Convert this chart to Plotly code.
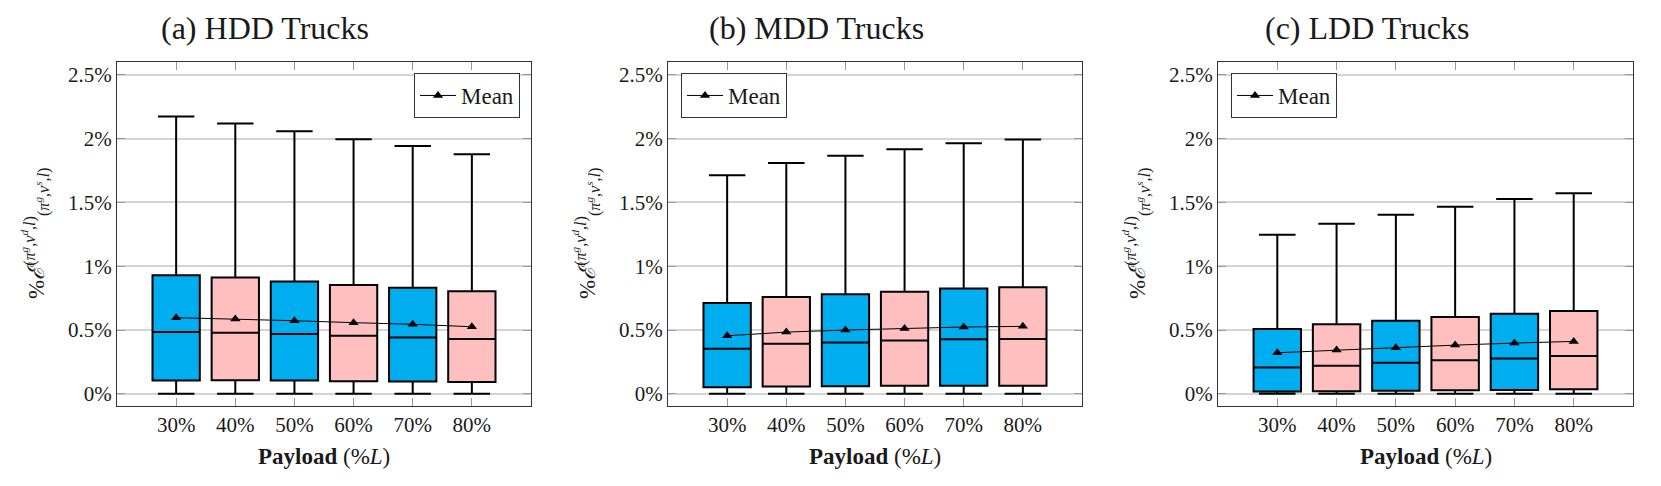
import plotly.graph_objects as go

# Payload categories and y ticks
payload = ["30%", "40%", "50%", "60%", "70%", "80%"]
y_tickvals = [0, 0.5, 1, 1.5, 2, 2.5]
y_ticktext = ["0%", "0.5%", "1%", "1.5%", "2%", "2.5%"]

titles = ["(a) HDD Trucks", "(b) MDD Trucks", "(c) LDD Trucks"]

# HDD trucks (values in %)
hdd_lower = [0, 0, 0, 0, 0, 0]
hdd_q1 = [0.105, 0.107, 0.105, 0.099, 0.097, 0.094]
hdd_median = [0.484, 0.479, 0.469, 0.455, 0.442, 0.429]
hdd_q3 = [0.929, 0.911, 0.880, 0.853, 0.832, 0.804]
hdd_upper = [2.173, 2.118, 2.058, 1.995, 1.942, 1.877]
hdd_mean = [0.597, 0.586, 0.573, 0.558, 0.545, 0.526]

# MDD trucks
mdd_lower = [0, 0, 0, 0, 0, 0]
mdd_q1 = [0.052, 0.058, 0.060, 0.063, 0.063, 0.063]
mdd_median = [0.353, 0.393, 0.403, 0.419, 0.427, 0.429]
mdd_q3 = [0.712, 0.759, 0.780, 0.801, 0.825, 0.835]
mdd_upper = [1.712, 1.809, 1.866, 1.916, 1.963, 1.992]
mdd_mean = [0.455, 0.484, 0.500, 0.513, 0.524, 0.529]

# LDD trucks
ldd_lower = [0, 0, 0, 0, 0, 0]
ldd_q1 = [0.018, 0.021, 0.024, 0.029, 0.031, 0.037]
ldd_median = [0.207, 0.220, 0.243, 0.264, 0.277, 0.296]
ldd_q3 = [0.508, 0.545, 0.573, 0.602, 0.628, 0.649]
ldd_upper = [1.246, 1.332, 1.403, 1.466, 1.526, 1.571]
ldd_mean = [0.322, 0.343, 0.361, 0.382, 0.398, 0.411]

panels = [
    (hdd_lower, hdd_q1, hdd_median, hdd_q3, hdd_upper, hdd_mean),
    (mdd_lower, mdd_q1, mdd_median, mdd_q3, mdd_upper, mdd_mean),
    (ldd_lower, ldd_q1, ldd_median, ldd_q3, ldd_upper, ldd_mean),
]

BLUE = "#00AEEF"
PINK = "#FFBFBF"
FONT = "Liberation Serif, DejaVu Serif, serif"
TXT = "#1a1a1a"

# the page body has an 8px margin, so the figure is shrunk by that
OFF = 8
W, H = 1661 - 2 * OFF, 486 - 2 * OFF
# plot boxes in page pixels (left, right), shared top/bottom
x_px = [(117, 531), (668, 1082), (1218, 1633)]
y_top, y_bot = 62, 406


def px_x(p):
    return (p - OFF) / W


def px_y(p):
    return 1 - (p - OFF) / H


fig = go.Figure()

for i, (lo, q1, med, q3, up, mean) in enumerate(panels):
    n = "" if i == 0 else str(i + 1)
    xa, ya = "x" + n, "y" + n

    # alternate colours: blue for 30/50/70, pink for 40/60/80
    for start, col in [(0, BLUE), (1, PINK)]:
        idx = list(range(start, len(payload), 2))
        fig.add_trace(go.Box(
            x=[payload[k] for k in idx],
            lowerfence=[lo[k] for k in idx],
            q1=[q1[k] for k in idx],
            median=[med[k] for k in idx],
            q3=[q3[k] for k in idx],
            upperfence=[up[k] for k in idx],
            fillcolor=col,
            line=dict(color="black", width=2),
            width=0.8,
            whiskerwidth=0.77,
            showlegend=False,
            xaxis=xa, yaxis=ya,
        ))

    fig.add_trace(go.Scatter(
        x=payload, y=mean,
        mode="lines+markers",
        name="Mean",
        line=dict(color="black", width=1),
        marker=dict(symbol="triangle-up", size=9, color="black"),
        xaxis=xa, yaxis=ya,
        legend="legend" + n,
    ))

axis_common = dict(
    showline=True, linecolor="#333333", linewidth=1.2, mirror="ticks",
    ticks="inside", ticklen=8, tickcolor="#999999", tickwidth=1,
    tickfont=dict(family=FONT, size=21, color=TXT),
)

layout = dict(
    width=W, height=H,
    margin=dict(l=0, r=0, t=0, b=0),
    paper_bgcolor="white", plot_bgcolor="white",
    boxmode="overlay",
    font=dict(family=FONT, color=TXT),
    annotations=[],
)

for i in range(3):
    n = "" if i == 0 else str(i + 1)
    left, right = x_px[i]
    layout["xaxis" + n] = dict(
        domain=[px_x(left), px_x(right)], anchor="y" + n,
        type="category", categoryorder="array", categoryarray=payload,
        range=[-1, 6], showgrid=False, **axis_common,
    )
    layout["yaxis" + n] = dict(
        domain=[px_y(y_bot), px_y(y_top)], anchor="x" + n,
        range=[-0.095, 2.6],
        tickvals=y_tickvals, ticktext=y_ticktext,
        showgrid=True, gridcolor="#d4d4d4", gridwidth=1.5,
        zeroline=False, **axis_common,
    )

    # legend box for the mean line
    if i == 0:
        leg = dict(x=px_x(520), xanchor="right")
    else:
        leg = dict(x=px_x(left + 13), xanchor="left")
    layout["legend" + n] = dict(
        **leg, y=px_y(73), yanchor="top",
        bgcolor="white", bordercolor="#333333", borderwidth=1,
        font=dict(family=FONT, size=23, color=TXT),
        itemwidth=36, tracegroupgap=0,
    )

    # subplot title
    layout["annotations"].append(dict(
        text=titles[i], x=px_x((left + right) / 2 - 59),
        y=px_y(27.5), xref="paper", yref="paper",
        xanchor="center", yanchor="middle", showarrow=False,
        font=dict(family=FONT, size=32, color=TXT),
    ))
    # y axis title
    layout["annotations"].append(dict(
        text="%<i>ℰ</i><sup>(<i>π<sup>g</sup></i>,<i>v<sup>d</sup></i>,<i>l</i>)</sup>"
             "<sub>(<i>π<sup>g</sup></i>,<i>v<sup>s</sup></i>,<i>l</i>)</sub>",
        x=px_x(left - 81), y=px_y(234), xref="paper", yref="paper",
        xanchor="center", yanchor="middle", textangle=-90, showarrow=False,
        font=dict(family=FONT, size=23, color=TXT),
    ))
    # x axis title
    layout["annotations"].append(dict(
        text="<b>Payload</b> (%<i>L</i>)",
        x=px_x((left + right) / 2), y=px_y(456),
        xref="paper", yref="paper", xanchor="center", yanchor="middle",
        showarrow=False,
        font=dict(family=FONT, size=23, color=TXT),
    ))

fig.update_layout(**layout)

fig.write_html("out.html")
